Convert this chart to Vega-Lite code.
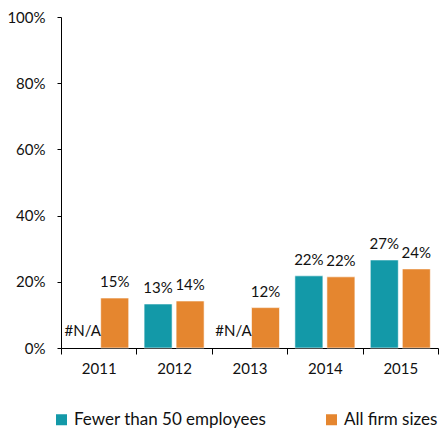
{
  "$schema": "https://vega.github.io/schema/vega-lite/v6.json",
  "width": 377,
  "height": 331,
  "autosize": {"type": "none"},
  "padding": {"left": 61, "top": 17, "right": 4, "bottom": 80},
  "background": "white",
  "config": {
    "view": {"stroke": null},
    "font": "Lato",
    "axis": {"grid": false, "domainColor": "#000000", "tickColor": "#000000", "labelColor": "#111111", "labelFont": "Lato", "labelFontSize": 15, "title": null}
  },
  "data": {
    "values": [
      {"year": "2011", "series": "Fewer than 50 employees", "value": null},
      {"year": "2011", "series": "All firm sizes", "value": 0.151},
      {"year": "2012", "series": "Fewer than 50 employees", "value": 0.133},
      {"year": "2012", "series": "All firm sizes", "value": 0.142},
      {"year": "2013", "series": "Fewer than 50 employees", "value": null},
      {"year": "2013", "series": "All firm sizes", "value": 0.122},
      {"year": "2014", "series": "Fewer than 50 employees", "value": 0.218},
      {"year": "2014", "series": "All firm sizes", "value": 0.215},
      {"year": "2015", "series": "Fewer than 50 employees", "value": 0.266},
      {"year": "2015", "series": "All firm sizes", "value": 0.239}
    ]
  },
  "encoding": {
    "x": {
      "field": "year", "type": "nominal",
      "scale": {"paddingInner": 0, "paddingOuter": 0},
      "axis": {"labelAngle": 0, "tickBand": "extent", "tickSize": 6, "labelPadding": 7, "domainWidth": 1}
    },
    "xOffset": {
      "field": "series", "type": "nominal",
      "sort": ["Fewer than 50 employees", "All firm sizes"],
      "scale": {"paddingInner": 0.125, "paddingOuter": 0.24}
    }
  },
  "layer": [
    {
      "mark": {"type": "bar", "stroke": "white", "strokeWidth": 0.6},
      "transform": [{"filter": "isValid(datum.value)"}],
      "encoding": {
        "y": {
          "field": "value", "type": "quantitative",
          "scale": {"domain": [0, 1], "nice": false},
          "axis": {"format": ".0%", "values": [0, 0.2, 0.4, 0.6, 0.8, 1], "tickSize": 4, "labelPadding": 12}
        },
        "color": {
          "field": "series", "type": "nominal",
          "sort": ["Fewer than 50 employees", "All firm sizes"],
          "scale": {"domain": ["Fewer than 50 employees", "All firm sizes"], "range": ["#1399A8", "#E5862F"]},
          "legend": {
            "title": null, "orient": "none", "direction": "horizontal",
            "legendX": -8, "legendY": 394,
            "symbolType": "square", "symbolSize": 121, "symbolStrokeWidth": 0,
            "labelFontSize": 17, "labelFont": "Lato", "labelColor": "#111111", "labelLimit": 400,
            "columnPadding": 56, "labelOffset": 4
          }
        }
      }
    },
    {
      "mark": {"type": "text", "baseline": "bottom", "dy": -8, "fontSize": 15, "color": "#111111"},
      "transform": [{"filter": "isValid(datum.value)"}],
      "encoding": {
        "y": {"field": "value", "type": "quantitative"},
        "text": {"field": "value", "type": "quantitative", "format": ".0%"}
      }
    },
    {
      "mark": {"type": "text", "baseline": "bottom", "dy": -9, "fontSize": 15, "color": "#111111"},
      "transform": [{"filter": "!isValid(datum.value)"}],
      "encoding": {
        "y": {"datum": 0, "type": "quantitative"},
        "text": {"value": "#N/A"}
      }
    }
  ]
}
